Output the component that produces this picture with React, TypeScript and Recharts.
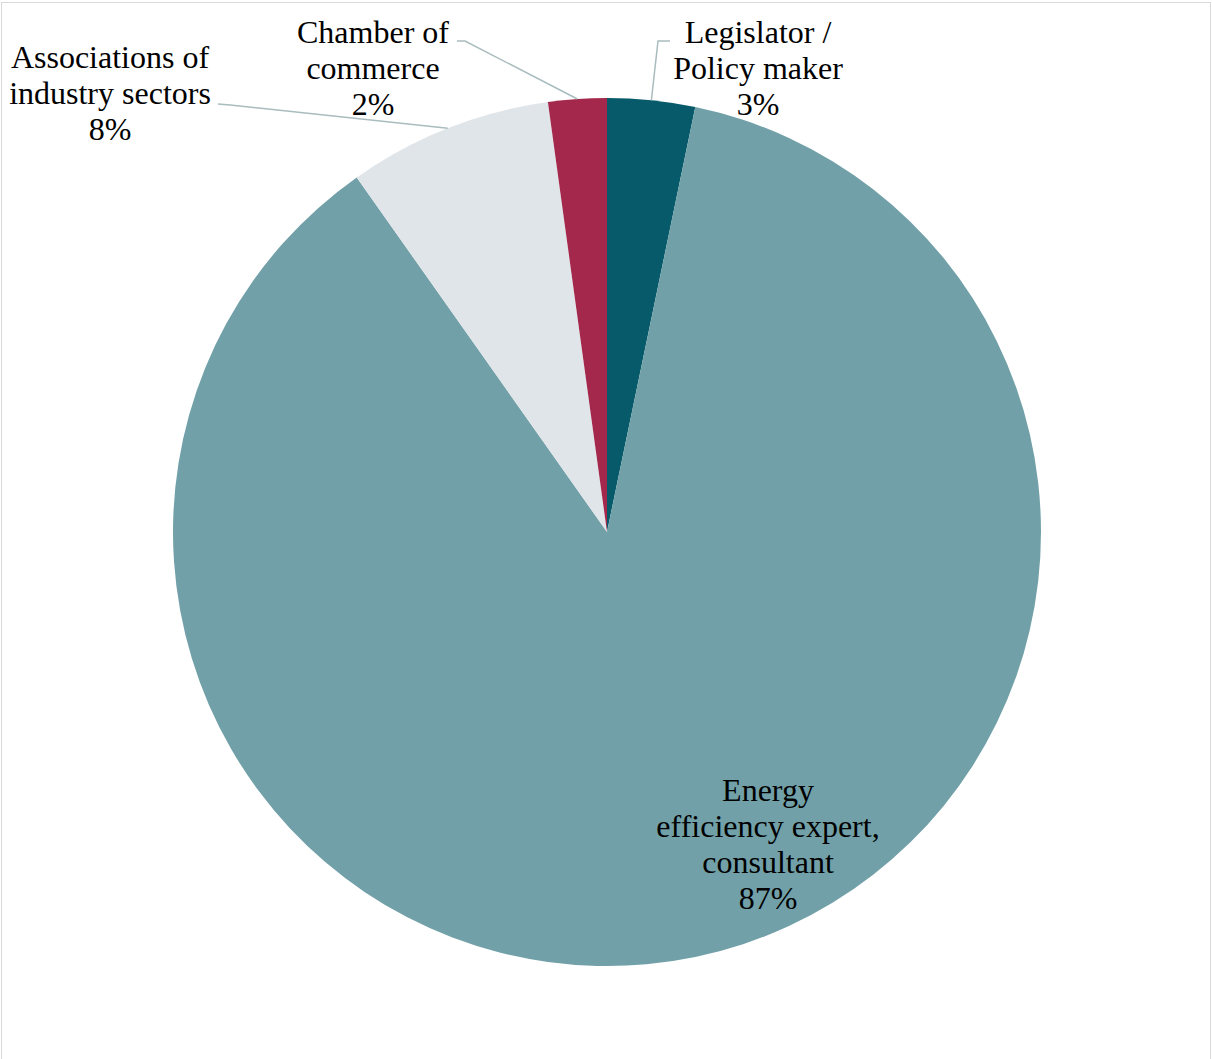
import { PieChart, Pie, Cell } from 'recharts';

// respondent groups, clockwise from 12 o'clock
const categories = ['Legislator /\nPolicy maker', 'Energy\nefficiency expert,\nconsultant', 'Associations of\nindustry sectors', 'Chamber of\ncommerce'];
const counts = [3, 80, 7, 2];
const colors = ['#065a69', '#71a0a8', '#e0e5e9', '#a3284b'];

const data = categories.map((name, i) => ({ name, value: counts[i] }));

// label placement relative to pie centre (text centre x, first baseline y, leader elbow, leader end)
const LABEL_LAYOUT = [
  { tx: 151, ty: -489, elbow: [51, -491], end: [63, -491] },
  { tx: 161, ty: 269, elbow: null, end: null },
  { tx: -497, ty: -464, elbow: [-377, -427], end: [-389, -428] },
  { tx: -234, ty: -489, elbow: [-142, -491], end: [-150, -491] },
];

const FONT = "'Liberation Serif', 'Times New Roman', Times, serif";
const LINE_H = 36;
const RAD = Math.PI / 180;

const renderLabel = (props: any) => {
  const { cx, cy, midAngle, outerRadius, index, percent } = props;
  const lay = LABEL_LAYOUT[index];
  const lines = [...categories[index].split('\n'), `${Math.round(percent * 100)}%`];
  const sx = cx + outerRadius * Math.cos(-midAngle * RAD);
  const sy = cy + outerRadius * Math.sin(-midAngle * RAD);
  return (
    <g key={`lbl-${index}`}>
      {lay.elbow && lay.end && (
        <polyline
          points={`${sx},${sy} ${cx + lay.elbow[0]},${cy + lay.elbow[1]} ${cx + lay.end[0]},${cy + lay.end[1]}`}
          fill="none"
          stroke="#a9bcbe"
          strokeWidth={1.5}
        />
      )}
      <text x={cx + lay.tx} y={cy + lay.ty} textAnchor="middle" style={{ fontFamily: FONT, fontSize: 32 }} fill="#000">
        {lines.map((l, i) => (
          <tspan key={i} x={cx + lay.tx} dy={i === 0 ? 0 : LINE_H}>{l}</tspan>
        ))}
      </text>
    </g>
  );
};

export default function App() {
  return (
    <div style={{ position: 'absolute', left: 0, top: 0, width: 1212, height: 1059, overflow: 'hidden', background: '#fff' }}>
      <div style={{ position: 'absolute', left: 1, top: 2, width: 1208, height: 1080, border: '1px solid #d9d9d9' }} />
      <PieChart width={1212} height={1059} margin={{ top: 0, right: 0, bottom: 0, left: 0 }} style={{ position: 'absolute', left: 0, top: 0 }}>
        <Pie
          data={data}
          dataKey="value"
          nameKey="name"
          cx={607}
          cy={532}
          outerRadius={434}
          startAngle={90}
          endAngle={-270}
          stroke="none"
          label={renderLabel}
          labelLine={false}
          isAnimationActive={false}
        >
          {data.map((d, i) => (
            <Cell key={d.name} fill={colors[i]} />
          ))}
        </Pie>
      </PieChart>
    </div>
  );
}
